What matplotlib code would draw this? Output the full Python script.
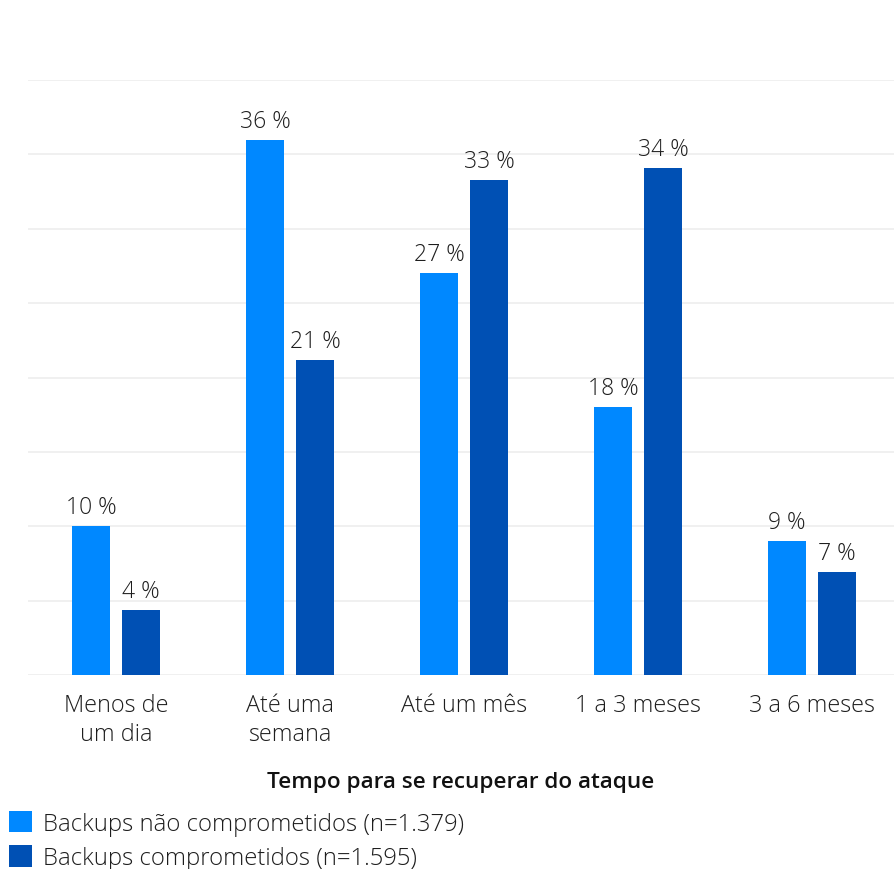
import numpy as np
import matplotlib
matplotlib.use("Agg")
import matplotlib.pyplot as plt

categories = ["Menos de\num dia", "Até uma\nsemana", "Até um mês", "1 a 3 meses", "3 a 6 meses"]
# bar heights; labels show rounded values
not_compromised = [10, 36, 27, 18, 9]
compromised = [4.4, 21.2, 33.3, 34.1, 6.9]
series_labels = ["Backups não comprometidos (n=1.379)", "Backups comprometidos (n=1.595)"]
x_title = "Tempo para se recuperar do ataque"

light_blue = "#0088FF"
dark_blue = "#0050B4"
text_color = "#1E1E1E"

plt.rcParams['font.family'] = ['Open Sans', 'DejaVu Sans']

fig = plt.figure(figsize=(8.94, 8.7), dpi=100)
ax = fig.add_axes([28 / 894, 1 - 676 / 870, 1 - 28 / 894, (676 - 81) / 870])

x = np.arange(len(categories))
width = 38 / 174
offset = 25 / 174

b1 = ax.bar(x - offset, not_compromised, width, color=light_blue, label=series_labels[0], zorder=3)
b2 = ax.bar(x + offset, compromised, width, color=dark_blue, label=series_labels[1], zorder=3)

for bars in (b1, b2):
    ax.bar_label(bars, labels=[f"{round(v)} %" for v in bars.datavalues], padding=5,
                 fontsize=16.5, color=text_color, fontweight='light')

ax.set_xlim(-88 / 174, 4 + 82 / 174)
ax.set_ylim(0, 40)
ax.set_yticks(np.arange(0, 41, 5))
ax.yaxis.grid(True, color="#EEEEEE", linewidth=1.2, zorder=0)
ax.set_yticklabels([])
ax.tick_params(axis='y', length=0)
ax.tick_params(axis='x', length=0, pad=13)
ax.set_xticks(x)
ax.set_xticklabels(categories, fontsize=16.8, color=text_color, fontweight='light', linespacing=1.25)
for s in ax.spines.values():
    s.set_visible(False)

ax.set_xlabel(x_title, fontsize=16.2, color="#111111", fontweight='semibold', labelpad=18)

fig.legend(handles=[b1, b2], loc='upper left', bbox_to_anchor=(0.002, 1 - 805 / 870),
           frameon=False, handlelength=0.98, handleheight=0.98,
           handletextpad=0.45, labelspacing=0.4, borderaxespad=0, borderpad=0.3,
           prop={'weight': 'light', 'size': 17.2})
for t in fig.legends[0].get_texts():
    t.set_color(text_color)

fig.savefig("out.png", dpi=100)
